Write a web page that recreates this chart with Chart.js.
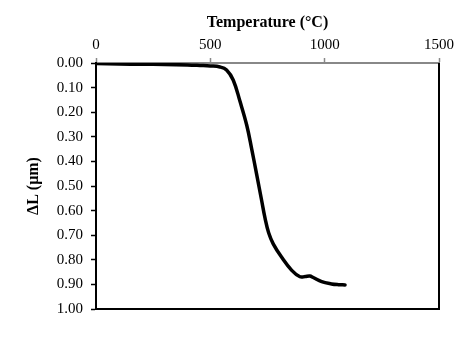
<!DOCTYPE html>
<html>
<head>
<meta charset="utf-8">
<script src="https://cdn.jsdelivr.net/npm/chart.js@4/dist/chart.umd.min.js"></script>
<style>
  html, body { margin: 0; padding: 0; background: #fff; }
  #wrap { width: 474px; height: 344px; position: relative; }
</style>
</head>
<body>
<div id="wrap"><canvas id="c" width="474" height="344"></canvas></div>
<script>
const temperatures = [0, 100, 200, 300, 400, 455, 500, 542, 571, 600, 630, 659, 681, 703, 724, 739, 755, 775, 812, 856, 892, 915, 935, 950, 987, 1030, 1060, 1089];
const deltaL = [0.002, 0.004, 0.005, 0.006, 0.008, 0.010, 0.012, 0.016, 0.028, 0.069, 0.157, 0.252, 0.350, 0.455, 0.557, 0.630, 0.690, 0.735, 0.790, 0.843, 0.869, 0.868, 0.866, 0.872, 0.889, 0.898, 0.901, 0.902];
const xTicks = [0, 500, 1000, 1500];
const yTicks = [0, 0.1, 0.2, 0.3, 0.4, 0.5, 0.6, 0.7, 0.8, 0.9, 1.0];
const xTitle = 'Temperature (°C)';
const yTitle = 'ΔL (μm)';

const points = temperatures.map((t, i) => ({ x: t, y: deltaL[i] }));

const frame = {
  id: 'frame',
  afterDraw(chart) {
    const { ctx, chartArea: a } = chart;
    ctx.save();
    ctx.strokeStyle = '#000';
    ctx.lineWidth = 2;
    ctx.beginPath();
    ctx.moveTo(a.right, a.top);
    ctx.lineTo(a.right, a.bottom);
    ctx.lineTo(a.left, a.bottom);
    ctx.stroke();
    ctx.restore();
  }
};

new Chart(document.getElementById('c'), {
  type: 'line',
  data: {
    datasets: [{
      data: points,
      borderColor: '#000',
      borderWidth: 3.5,
      pointRadius: 0,
      fill: false,
      tension: 0.4,
      borderCapStyle: 'round',
      borderJoinStyle: 'round'
    }]
  },
  options: {
    responsive: false,
    animation: false,
    devicePixelRatio: 1,
    layout: { padding: { left: 24, top: 0, right: 35, bottom: 35 } },
    plugins: { legend: { display: false }, tooltip: { enabled: false } },
    scales: {
      x: {
        type: 'linear',
        position: 'top',
        min: 0, max: 1500,
        afterBuildTicks: s => { s.ticks = xTicks.map(v => ({ value: v })); },
        afterFit: s => { s.height = 63; },
        ticks: {
          color: '#000',
          padding: 4,
          font: { family: "'Liberation Serif', 'Times New Roman', serif", size: 15 },
          callback: v => String(v)
        },
        grid: { drawOnChartArea: false, tickLength: 5, color: '#888', tickWidth: 1.5 },
        border: { display: true, color: '#888', width: 2 },
        title: {
          display: true, text: xTitle, color: '#000',
          padding: { top: 13, bottom: 2 },
          font: { family: "'Liberation Serif', 'Times New Roman', serif", size: 16, weight: 'bold' }
        }
      },
      y: {
        type: 'linear',
        reverse: true,
        min: 0, max: 1,
        afterBuildTicks: s => { s.ticks = yTicks.map(v => ({ value: v })); },
        afterFit: s => { s.width = 72; },
        ticks: {
          color: '#000',
          padding: 8,
          font: { family: "'Liberation Serif', 'Times New Roman', serif", size: 15 },
          callback: v => Number(v).toFixed(2)
        },
        grid: { drawOnChartArea: false, tickLength: 5, color: '#000', tickWidth: 1.5 },
        border: { display: true, color: '#000', width: 2 },
        title: {
          display: true, text: yTitle, color: '#000',
          padding: { top: 0, bottom: 0 },
          font: { family: "'Liberation Serif', 'Times New Roman', serif", size: 16, weight: 'bold' }
        }
      }
    }
  },
  plugins: [frame]
});
</script>
</body>
</html>
